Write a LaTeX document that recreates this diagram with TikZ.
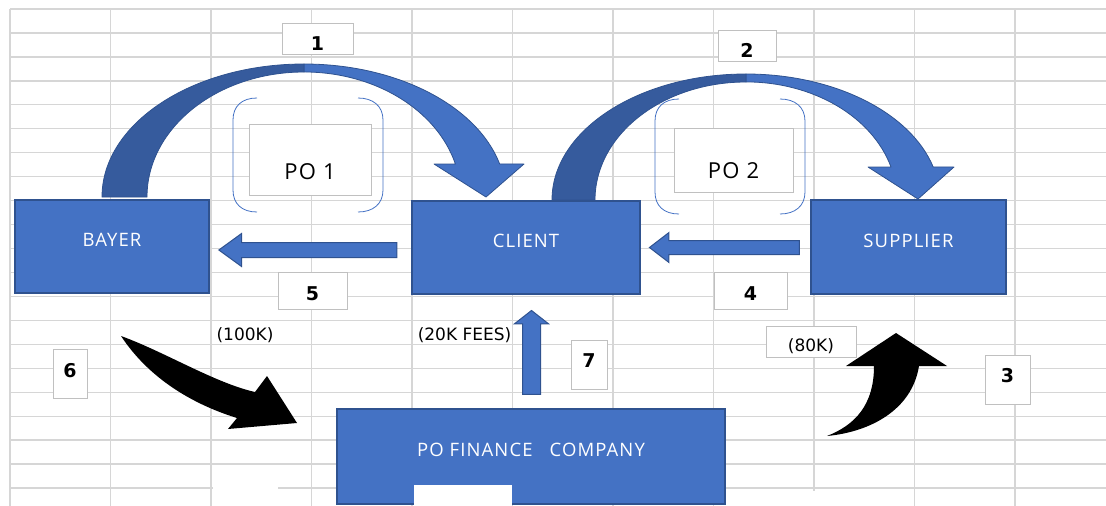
\documentclass[tikz,border=0pt]{standalone}
\usepackage{fontspec}
\setmainfont{Open Sans}
\newfontfamily\partyfont[LetterSpace=6]{Open Sans}
\newfontfamily\digitfont{DejaVu Sans}
\usetikzlibrary{shapes.arrows}

\definecolor{cellblue}{HTML}{4472C4}
\definecolor{celledge}{HTML}{2F528F}
\definecolor{cellshade}{HTML}{365B9D}
\definecolor{gridgray}{HTML}{D6D6D6}
\definecolor{tagedge}{HTML}{C0C0C0}

\tikzset{
  gridline/.style={draw=gridgray,line width=1.3pt},
  party/.style={draw=celledge,fill=cellblue,line width=1.2pt,text=white,inner sep=0pt,
    text height=9pt,text depth=9pt,font=\partyfont\fontsize{18.5}{20}\selectfont},
  steptag/.style={draw=tagedge,fill=white,line width=1pt,inner sep=0pt,text depth=0pt,
    text height=#1,font=\digitfont\bfseries\fontsize{19}{22}\selectfont},
  pobox/.style={draw=tagedge,fill=white,line width=1pt,inner sep=0pt,text depth=0pt,
    text height=#1,font=\partyfont\fontsize{22}{24}\selectfont},
  bracket/.style={draw=cellblue,line width=0.8pt},
  swoop/.style={fill=cellblue,draw=celledge,line width=0.8pt,line join=round},
  swoopback/.style={fill=cellshade,draw=celledge,line width=0.8pt},
  blockarrow/.style={single arrow,fill=cellblue,draw=celledge,line width=1pt,inner sep=#1},
  amount/.style={font=\digitfont\fontsize{17}{20}\selectfont,anchor=base},
}

\begin{document}
\begin{tikzpicture}[x=1pt,y=-1pt]
    \useasboundingbox (0,0) rectangle (1106,506);
    %% sheet grid
    \foreach \col in {0,...,10}
        \draw[gridline] (10+100.5*\col,9) -- (10+100.5*\col,506);
    \foreach \row in {0,...,20}
        \draw[gridline] (10,9+23.95*\row) -- (1106,9+23.95*\row);
    \fill[white] (213,485) rectangle (278,507);
    \fill[white] (806,491) rectangle (822,507);
    %% brackets round the orders
    \draw[bracket] (257,98) .. controls (242,98) and (233,106) .. (233,120) -- (233,190) .. controls (233,204) and (242,212) .. (257,212);
    \draw[bracket] (358,98) .. controls (373,98) and (383,106) .. (383,120) -- (383,190) .. controls (383,204) and (373,212) .. (358,212);
    \draw[bracket] (679,99) .. controls (664,99) and (655,107) .. (655,121) -- (655,192) .. controls (655,206) and (664,214) .. (679,214);
    \draw[bracket] (780,99) .. controls (795,99) and (805,107) .. (805,121) -- (805,192) .. controls (805,206) and (795,214) .. (780,214);
    %% orders
    \node[pobox=39pt,minimum width=122pt,minimum height=71pt] (po1) at (310,159.5) {PO 1};
    \node[pobox=36pt,minimum width=119pt,minimum height=64pt] (po2) at (733.5,160) {PO 2};
    %% curved arrow over PO 1
    \draw[swoop] (304,64) arc[start angle=90,end angle=14.4,x radius=202pt,y radius=133pt]
        -- (524,164) -- (486,197) -- (434,164) -- (455.4,164)
        arc[start angle=15.3,end angle=90,x radius=157pt,y radius=125pt] -- cycle;
    \draw[swoopback] (102,197) arc[start angle=180,end angle=90,x radius=202pt,y radius=133pt]
        -- (304,72) arc[start angle=90,end angle=180,x radius=157pt,y radius=125pt] -- cycle;
    %% curved arrow over PO 2
    \draw[swoop] (746,74) arc[start angle=90,end angle=15.2,x radius=194pt,y radius=126pt]
        -- (954,167) -- (918,199) -- (868,167) -- (891,167)
        arc[start angle=16.2,end angle=90,x radius=151pt,y radius=118pt] -- cycle;
    \draw[swoopback] (552,200) arc[start angle=180,end angle=90,x radius=194pt,y radius=126pt]
        -- (746,82) arc[start angle=90,end angle=180,x radius=151pt,y radius=118pt] -- cycle;
    %% parties
    \node[party,minimum width=194pt,minimum height=93pt] (bayer) at (112,246.5) {BAYER};
    \node[party,minimum width=228pt,minimum height=93pt] (client) at (526,247.5) {CLIENT};
    \node[party,minimum width=195pt,minimum height=94pt] (supplier) at (908.5,247) {SUPPLIER};
    \node[party,minimum width=388pt,minimum height=95pt] (finance) at (531,456.5) {PO FINANCE\hspace{17pt}COMPANY};
    \fill[white] (414,485) rectangle (512,507);
    %% straight arrows
    \node[blockarrow=7pt,minimum height=178pt,minimum width=32pt,single arrow head extend=9pt,
        single arrow tip angle=72,shape border rotate=180] (goods5) at (313,250) {};
    \node[blockarrow=6.5pt,minimum height=150pt,minimum width=29pt,single arrow head extend=8pt,
        single arrow tip angle=75,shape border rotate=180] (goods4) at (729,247.5) {};
    \node[blockarrow=8.5pt,minimum height=84pt,minimum width=33pt,single arrow head extend=8pt,
        single arrow tip angle=104,shape border rotate=90] (fees7) at (531.5,356) {};
    %% payments
    \fill (121,336) .. controls (165,352) and (215,383) .. (255,392) -- (267,376) -- (297,423)
        -- (228,429) -- (237,418) .. controls (195,405) and (150,380) .. (121,336) -- cycle;
    \fill (827,436) .. controls (855,425) and (874,405) .. (874,366) -- (846,366) -- (896,333)
        -- (947,366) -- (919,366) .. controls (912,410) and (870,432) .. (827,436) -- cycle;
    %% step numbers
    \node[steptag=23pt,minimum width=71pt,minimum height=31pt] (step1) at (317.5,38.5) {1};
    \node[steptag=23pt,minimum width=58pt,minimum height=31pt] (step2) at (747,45.5) {2};
    \node[steptag=19pt,minimum width=69pt,minimum height=37pt] (step5) at (312.5,290.5) {5};
    \node[steptag=19pt,minimum width=73pt,minimum height=37pt] (step4) at (750.5,290.5) {4};
    \node[steptag=7pt,minimum width=34pt,minimum height=49pt] (step6) at (70,373.5) {6};
    \node[steptag=5pt,minimum width=36pt,minimum height=49pt] (step7) at (589,364.5) {7};
    \node[steptag=5pt,minimum width=45pt,minimum height=49pt] (step3) at (1007.5,379.5) {3};
    %% amounts
    \node[steptag=19pt,minimum width=90pt,minimum height=31pt,
        font=\digitfont\fontsize{17}{20}\selectfont] (amt80) at (811,341.5) {(80K)};
    \node[amount] (amt100) at (245,340) {(100K)};
    \node[amount] (amt20) at (464.5,340) {(20K FEES)};
\end{tikzpicture}
\end{document}
